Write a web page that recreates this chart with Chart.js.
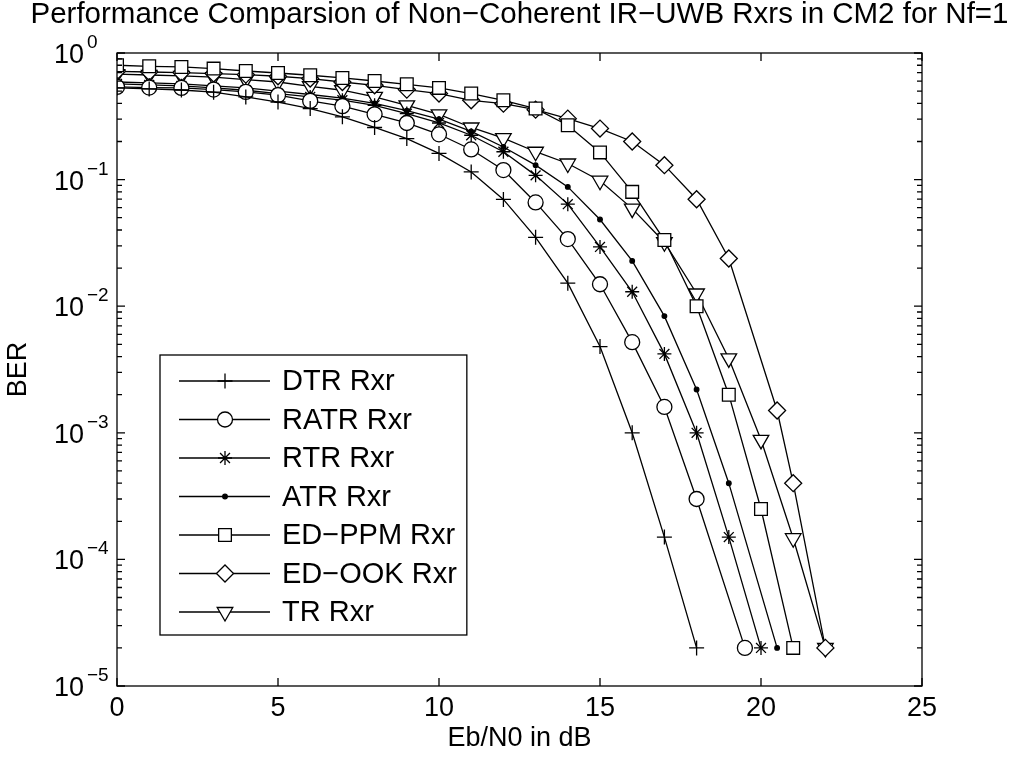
<!DOCTYPE html>
<html>
<head>
<meta charset="utf-8">
<title>BER of non-coherent IR-UWB receivers</title>
<script src="https://cdn.jsdelivr.net/npm/chart.js@4.4.0/dist/chart.umd.min.js"></script>
<style>
  html, body { margin: 0; padding: 0; background: #fff; }
  #wrap { width: 1014px; height: 767px; }
</style>
</head>
<body>
<div id="wrap"><canvas id="berChart"></canvas></div>
<script>
const chartTitle = "Performance Comparsion of Non\u2212Coherent IR\u2212UWB Rxrs in CM2 for Nf=1";
const seriesNames = ["DTR Rxr", "RATR Rxr", "RTR Rxr", "ATR Rxr", "ED\u2212PPM Rxr", "ED\u2212OOK Rxr", "TR Rxr"];

// Eb/N0 in dB for each curve
const snrDTR  = [0,1,2,3,4,5,6,7,8,9,10,11,12,13,14,15,16,17,18];
const snrRATR = [0,1,2,3,4,5,6,7,8,9,10,11,12,13,14,15,16,17,18,19.5];
const snrRTR  = [0,1,2,3,4,5,6,7,8,9,10,11,12,13,14,15,16,17,18,19,20];
const snrATR  = [0,1,2,3,4,5,6,7,8,9,10,11,12,13,14,15,16,17,18,19,20.5];
const snrPPM  = [0,1,2,3,4,5,6,7,8,9,10,11,12,13,14,15,16,17,18,19,20,21];
const snrOOK  = [0,1,2,3,4,5,6,7,8,9,10,11,12,13,14,15,16,17,18,19,20.5,21,22];
const snrTR   = [0,1,2,3,4,5,6,7,8,9,10,11,12,13,14,15,16,17,18,19,20,21,22];

// BER
const berDTR  = [0.53,0.52,0.51,0.49,0.45,0.41,0.364,0.313,0.258,0.211,0.161,0.115,0.0697,0.035,0.0152,0.0048,0.001,0.00015,0.00002];
const berRATR = [0.54,0.533,0.53,0.514,0.493,0.464,0.418,0.38,0.328,0.28,0.228,0.173,0.119,0.066,0.0339,0.0149,0.0052,0.0016,0.0003,0.00002];
const berRTR  = [0.57,0.56,0.55,0.53,0.508,0.478,0.45,0.424,0.386,0.332,0.28,0.224,0.166,0.108,0.064,0.0294,0.013,0.0042,0.001,0.00015,0.00002];
const berATR  = [0.59,0.58,0.57,0.55,0.53,0.5,0.47,0.44,0.4,0.35,0.3,0.24,0.181,0.13,0.0876,0.0484,0.0228,0.00835,0.0022,0.0004,0.00002];
const berPPM  = [0.8,0.785,0.776,0.753,0.721,0.695,0.667,0.635,0.601,0.566,0.53,0.478,0.423,0.364,0.269,0.164,0.08,0.0333,0.01,0.002,0.00025,0.00002];
const berOOK  = [0.717,0.708,0.7,0.688,0.675,0.655,0.628,0.59,0.556,0.514,0.478,0.423,0.398,0.357,0.303,0.253,0.2,0.13,0.07,0.0238,0.0015,0.0004,0.00002];
const berTR   = [0.68,0.67,0.66,0.645,0.616,0.59,0.546,0.508,0.45,0.386,0.328,0.258,0.213,0.166,0.134,0.098,0.059,0.032,0.0126,0.00387,0.00088,0.000147,0.00002];

const xTicks = [0, 5, 10, 15, 20, 25];
const yDecades = [1e-5, 1e-4, 1e-3, 1e-2, 1e-1, 1];

const fontFamily = "'Liberation Sans', Arial, Helvetica, sans-serif";
const tickSize = 27;
const legendSize = 29;
const titleSize = 29.5;

// marker look per series, same order as seriesNames
const markers = [
  { style: "cross",    radius: 7.5, fill: "#fff", rot: 0 },
  { style: "circle",   radius: 7.5, fill: "#fff", rot: 0 },
  { style: "star",     radius: 7,   fill: "#fff", rot: 0 },
  { style: "circle",   radius: 2.3, fill: "#000", rot: 0 },
  { style: "rect",     radius: 9,   fill: "#fff", rot: 0 },
  { style: "rectRot",  radius: 8.5, fill: "#fff", rot: 0 },
  { style: "triangle", radius: 9,   fill: "#fff", rot: 180 }
];

const xs = [snrDTR, snrRATR, snrRTR, snrATR, snrPPM, snrOOK, snrTR];
const ys = [berDTR, berRATR, berRTR, berATR, berPPM, berOOK, berTR];

const datasets = seriesNames.map((name, i) => ({
  label: name,
  data: xs[i].map((x, j) => ({ x: x, y: ys[i][j] })),
  borderColor: "#000",
  borderWidth: 1.3,
  pointStyle: markers[i].style,
  pointRotation: markers[i].rot,
  pointRadius: markers[i].radius,
  pointHoverRadius: markers[i].radius,
  pointBackgroundColor: markers[i].fill,
  pointBorderColor: "#000",
  pointBorderWidth: 1.3,
  fill: false,
  tension: 0
}));

// box, inward ticks, 10^k labels, title and legend, drawn the MATLAB way
const matlabLook = {
  id: "matlabLook",
  afterDraw(chart) {
    const { ctx, chartArea: a, scales: { x, y } } = chart;
    ctx.save();
    ctx.strokeStyle = "#000";
    ctx.fillStyle = "#000";
    ctx.lineWidth = 1.3;

    // ticks
    ctx.beginPath();
    x.ticks.forEach(t => {
      const px = x.getPixelForValue(t.value);
      ctx.moveTo(px, a.bottom); ctx.lineTo(px, a.bottom - 8);
      ctx.moveTo(px, a.top); ctx.lineTo(px, a.top + 8);
    });
    y.ticks.forEach(t => {
      const py = y.getPixelForValue(t.value);
      ctx.moveTo(a.left, py); ctx.lineTo(a.left + 8, py);
      ctx.moveTo(a.right, py); ctx.lineTo(a.right - 8, py);
      if (t.value < 1) {
        for (let m = 2; m <= 9; m++) {
          const pm = y.getPixelForValue(t.value * m);
          ctx.moveTo(a.left, pm); ctx.lineTo(a.left + 5, pm);
          ctx.moveTo(a.right, pm); ctx.lineTo(a.right - 5, pm);
        }
      }
    });
    ctx.stroke();
    ctx.strokeRect(a.left, a.top, a.right - a.left, a.bottom - a.top);

    // y labels as 10 with a raised exponent
    y.ticks.forEach(t => {
      const py = y.getPixelForValue(t.value);
      const e = Math.round(Math.log10(t.value));
      ctx.font = tickSize + "px " + fontFamily;
      ctx.textAlign = "right";
      ctx.textBaseline = "alphabetic";
      ctx.fillText("10", a.left - 33, py + 10);
      ctx.font = Math.round(tickSize * 0.7) + "px " + fontFamily;
      ctx.textAlign = "left";
      ctx.fillText(e < 0 ? "\u2212" + (-e) : String(e), a.left - 30, py - 5);
    });

    // title
    ctx.font = titleSize + "px " + fontFamily;
    ctx.textAlign = "center";
    ctx.textBaseline = "middle";
    ctx.fillText(chartTitle, (a.left + a.right) / 2, 15);

    // legend
    const lx = a.left + 43, ly = a.top + 302, rowH = 38.5;
    ctx.font = legendSize + "px " + fontFamily;
    let wMax = 0;
    chart.data.datasets.forEach(d => { wMax = Math.max(wMax, ctx.measureText(d.label).width); });
    const boxW = 122 + wMax + 10, boxH = 26 + rowH * 6 + 23;
    ctx.fillStyle = "#fff";
    ctx.fillRect(lx, ly, boxW, boxH);
    ctx.strokeRect(lx, ly, boxW, boxH);
    chart.data.datasets.forEach((d, i) => {
      const ry = ly + 26 + i * rowH;
      ctx.beginPath();
      ctx.moveTo(lx + 19, ry); ctx.lineTo(lx + 110, ry);
      ctx.stroke();
      ctx.fillStyle = d.pointBackgroundColor;
      Chart.helpers.drawPoint(ctx, {
        pointStyle: d.pointStyle, rotation: d.pointRotation,
        radius: d.pointRadius, borderWidth: 1.3
      }, lx + 65, ry);
      ctx.fillStyle = "#000";
      ctx.textAlign = "left";
      ctx.textBaseline = "middle";
      ctx.fillText(d.label, lx + 122, ry + 1);
    });
    ctx.restore();
  }
};

new Chart(document.getElementById("berChart"), {
  type: "line",
  data: { datasets: datasets },
  options: {
    responsive: true,
    maintainAspectRatio: false,
    animation: false,
    events: [],
    layout: { padding: { top: 53, right: 92, left: 0, bottom: 0 } },
    plugins: { legend: { display: false }, tooltip: { enabled: false }, title: { display: false } },
    scales: {
      x: {
        type: "linear",
        min: 0, max: 25,
        afterBuildTicks: s => { s.ticks = xTicks.map(v => ({ value: v })); },
        afterFit: s => { s.height = 81; },
        grid: { display: false, drawTicks: false },
        border: { display: false },
        ticks: { color: "#000", padding: 6, font: { family: fontFamily, size: tickSize } },
        title: { display: true, text: "Eb/N0 in dB", color: "#000",
                 font: { family: fontFamily, size: tickSize }, padding: { top: 0, bottom: 12 } }
      },
      y: {
        type: "logarithmic",
        min: 1e-5, max: 1,
        afterBuildTicks: s => { s.ticks = yDecades.map(v => ({ value: v, major: true })); },
        afterFit: s => { s.width = 117; },
        grid: { display: false, drawTicks: false },
        border: { display: false },
        ticks: { display: false },
        title: { display: true, text: "BER", color: "#000",
                 font: { family: fontFamily, size: tickSize }, padding: { top: 2, bottom: 0 } }
      }
    }
  },
  plugins: [matlabLook]
});
</script>
</body>
</html>
